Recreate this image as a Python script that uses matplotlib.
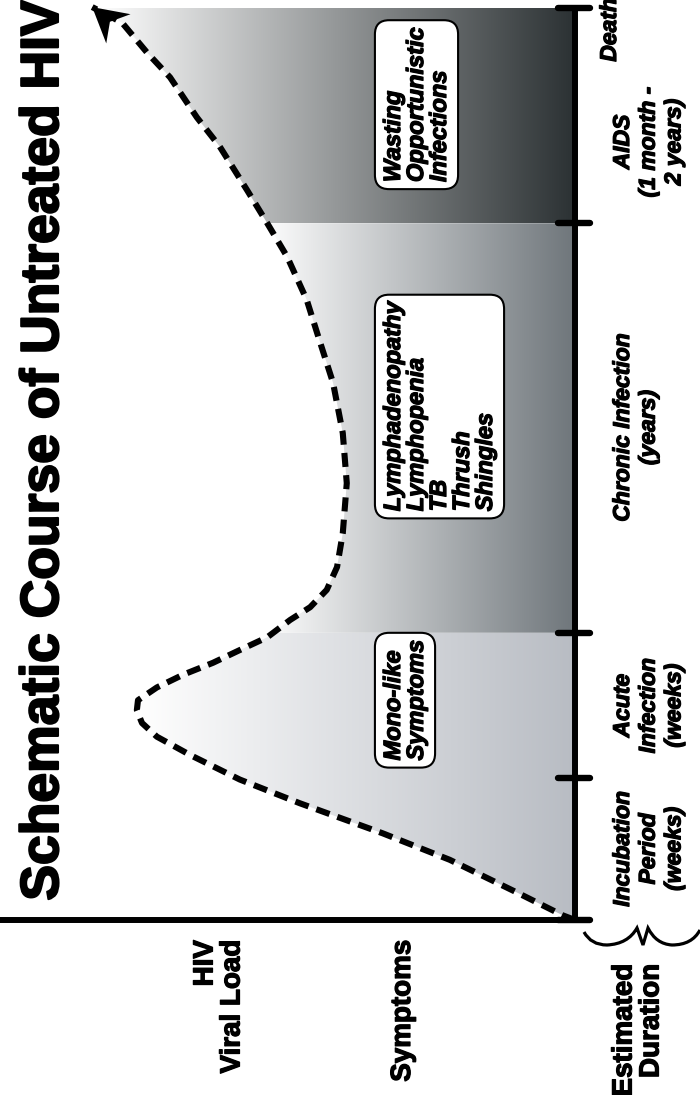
import numpy as np
import matplotlib.pyplot as plt
import matplotlib.patheffects as pe
from matplotlib.colors import LinearSegmentedColormap
from matplotlib.patches import Polygon, PathPatch
from matplotlib.path import Path

plt.rcParams['font.family'] = ['Liberation Sans', 'DejaVu Sans']

# schematic viral load curve (time and load in relative units 0-100)
time_pts = [0.0, 0.5, 3.0, 6.6, 9.5, 12.8, 15.4, 18.1, 20.1, 21.6, 23.0, 24.1,
            25.5, 26.9, 28.2, 29.6, 31.0, 32.9, 34.3, 36.2, 38.7, 42.4, 47.9,
            53.4, 58.9, 64.4, 68.0, 72.7, 76.4, 80.0, 84.8, 88.0, 92.4, 95.1,
            98.4, 100.1]
load_pts = [0.0, 2.1, 10.1, 21.9, 33.6, 48.1, 58.6, 67.3, 73.1, 75.7, 76.6, 76.4,
            73.1, 68.5, 63.3, 58.6, 53.8, 49.8, 46.3, 43.4, 41.6, 40.6, 39.9,
            40.6, 42.3, 45.1, 46.9, 50.3, 53.8, 57.3, 62.1, 66.1, 70.8, 74.8,
            79.2, 84.4]

stage_bounds = [0, 15.6, 31.5, 76.4, 100]
stage_labels = ["Incubation\nPeriod\n(weeks)", "Acute\nInfection\n(weeks)",
                "Chronic Infection\n(years)", "AIDS\n(1 month -\n2 years)", "Death"]
stage_label_t = [7.8, 23.5, 54.0, 85.3, 97.6]
stage_label_x = [611, 611, 611, 611, 598]

band_ranges = [(0, 31.5), (31.5, 76.4), (76.4, 100)]
band_dark = ['#b8bcc3', '#6f767b', '#2b3133']
band_white_at = [77, 55, 84]

symptom_text = ["Mono-like\nSymptoms",
                "Lymphadenopathy\nLymphopenia\nTB\nThrush\nShingles",
                "Wasting\nOpportunistic\nInfections"]
symptom_t = [24.1, 56.3, 89.4]

heavy = [pe.withStroke(linewidth=0.9, foreground='black')]


def px(x, y):
    # figure pixel -> data (load, time)
    return (575 - x) / 5.72, (920 - y) / 9.12


fig = plt.figure(figsize=(7, 10.95), dpi=100)
ax = fig.add_axes([0, 0, 1, 1])
x0, y0 = px(0, 0)
x1, y1 = px(700, 1095)
ax.set_xlim(x0, x1)
ax.set_ylim(y1, y0)
ax.axis('off')

# gradient shading under the curve, one band per phase
for (t0, t1), dark, vw in zip(band_ranges, band_dark, band_white_at):
    tt = [t0] + [t for t in time_pts if t0 < t < t1] + [t1]
    vv = np.interp(tt, time_pts, load_pts)
    verts = list(zip(vv, tt)) + [(0, t1), (0, t0)]
    clip = Polygon(verts, closed=True, transform=ax.transData)
    cmap = LinearSegmentedColormap.from_list('band', ['white', dark])
    grad = np.linspace(0, 1, 256).reshape(1, -1)
    im = ax.imshow(grad, cmap=cmap, extent=(vw, 0, t0, t1), aspect='auto',
                   origin='lower', interpolation='bilinear', zorder=1)
    im.set_clip_path(clip)

# dashed viral load curve
ax.plot(load_pts, time_pts, color='black', lw=4.4,
        ls=(0, (2.3, 1.35)), dash_capstyle='butt', zorder=3)

# notched arrow head at the end of the curve, built in pixel space
tip = ax.transData.transform((load_pts[-1], time_pts[-1]))
back = ax.transData.transform((load_pts[-3], time_pts[-3]))
u = (tip - back) / np.hypot(*(tip - back))
n = np.array([-u[1], u[0]])
head = [tip, tip - 34 * u + 19 * n, tip - 23 * u, tip - 34 * u - 19 * n]
head = ax.transData.inverted().transform(np.array(head))
ax.add_patch(Polygon(head, closed=True, fc='black', ec='none', zorder=4))

# axes
ax.plot([0, 0], [0, 100], color='black', lw=4.3, solid_capstyle='butt', zorder=5)
ax.plot([100.6, -2.8], [0, 0], color='black', lw=4.3, solid_capstyle='butt', zorder=5)
for t in stage_bounds:
    ax.plot([3.0, -2.7], [t, t], color='black', lw=4.6, solid_capstyle='round', zorder=5)

# stage labels along the time axis
for lab, t, xp in zip(stage_labels, stage_label_t, stage_label_x):
    ax.text(px(xp, 0)[0], t, lab, rotation=90, ha='left', va='center',
            multialignment='center', fontsize=16.5, fontweight='bold',
            fontstyle='italic', linespacing=1.15, path_effects=heavy)

# symptom boxes
for lab, t in zip(symptom_text, symptom_t):
    ax.text(px(382, 0)[0], t, lab, rotation=90, ha='left', va='center',
            multialignment='left', fontsize=17, fontweight='bold',
            fontstyle='italic', linespacing=1.0, zorder=6, path_effects=heavy,
            bbox=dict(boxstyle='round,pad=0.3,rounding_size=0.6', fc='white',
                      ec='black', lw=1.5))

# row labels
ax.text(*px(219, 940), "HIV\nViral Load", rotation=90, ha='center', va='top',
        multialignment='right', fontsize=20, fontweight='bold', linespacing=1.05,
        path_effects=heavy)
ax.text(*px(403, 940), "Symptoms", rotation=90, ha='center', va='top',
        fontsize=20, fontweight='bold', path_effects=heavy)
ax.text(*px(638, 964), "Estimated\nDuration", rotation=90, ha='center', va='top',
        multialignment='right', fontsize=20, fontweight='bold', linespacing=1.05,
        path_effects=heavy)

# brace under the time axis
bx = [584, 591, 607, 628, 637, 643, 648, 656, 672, 692, 700]
by = [932, 945, 945, 944, 928, 945, 928, 944, 945, 945, 930]
pts = [px(a, b) for a, b in zip(bx, by)]
codes = [Path.MOVETO, Path.CURVE3, Path.CURVE3, Path.CURVE3, Path.CURVE3,
         Path.LINETO, Path.LINETO, Path.CURVE3, Path.CURVE3, Path.CURVE3,
         Path.CURVE3]
ax.add_patch(PathPatch(Path(pts, codes), fc='none', ec='black', lw=2.3,
                       joinstyle='miter', zorder=5))

# title
ax.text(*px(44, 450), "Schematic Course of Untreated HIV", rotation=90,
        ha='center', va='center', fontsize=38.5, fontweight='bold',
        path_effects=[pe.withStroke(linewidth=1.5, foreground='black')])

fig.savefig('out.png', dpi=100)
